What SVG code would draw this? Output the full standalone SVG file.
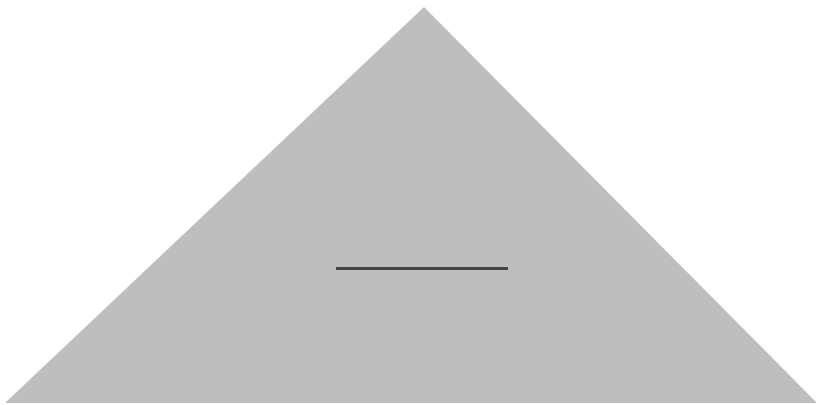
<svg xmlns="http://www.w3.org/2000/svg" width="816" height="405" viewBox="0 0 816 405">
<style>
.tri{fill:#bebebe;}
.ln{stroke:#444444;stroke-width:3;fill:none;}
</style>
<rect width="816" height="405" fill="#ffffff"/>
<g id="triangle"><polygon class="tri" points="424,7 5,403 817,403"/></g>
<g id="connectors"><line class="ln" x1="336" y1="268.5" x2="508" y2="268.5"/></g>
</svg>
